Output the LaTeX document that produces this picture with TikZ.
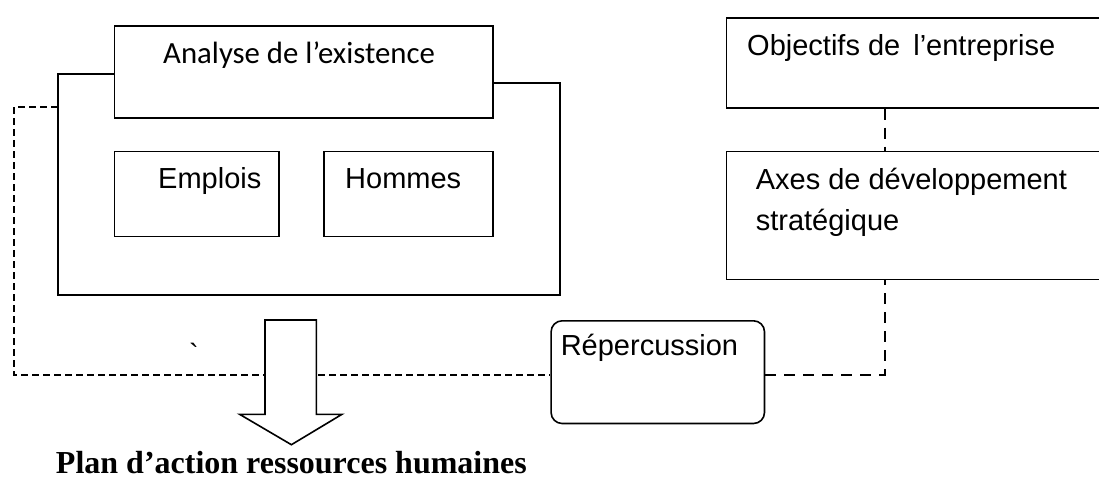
\documentclass[tikz,border=0pt]{standalone}
\usepackage{fontspec}
\setmainfont{Liberation Sans}
\newfontfamily\calibrifont{Carlito}
\newfontfamily\timesfont{Liberation Serif}
\tikzset{
  box/.style       = {shape=rectangle, draw, line width=1.6pt,
                      inner sep=0pt, anchor=north west},
  roundbox/.style  = {box, rounded corners=11pt},
  txt/.style       = {inner sep=0pt, anchor=base west,
                      font=\fontsize{29}{41}\selectfont},
  shortdash/.style = {draw, line width=2pt, dash pattern=on 7pt off 4pt},
  longdash/.style  = {draw, line width=2pt, dash pattern=on 11pt off 8pt}
}
\begin{document}
\begin{tikzpicture}
  [
    x = 1pt,
    y = -1pt
  ]
  \clip (0,0) rectangle (1099,479);
  % left block
  \node [box, minimum width=378.2pt, minimum height=92pt] (analyse) at (113.8,25) {};
  \node [box, minimum width=164.9pt, minimum height=85pt] (emplois) at (113.5,150.7) {};
  \node [box, minimum width=168.9pt, minimum height=85pt] (hommes) at (323.4,150.7) {};
  \draw [line width=1.6pt] ([yshift=-48.7pt]analyse.north west) -- (57.7,73.7)
    -- (57.7,294.7) -- (560,294.7) -- (560,83) -- ([yshift=-58pt]analyse.north east);
  % right block
  \node [box, minimum width=400pt, minimum height=89.7pt] (objectifs) at (725.7,17.3) {};
  \node [box, minimum width=400pt, minimum height=128pt] (axes) at (725.7,150.7) {};
  \node [roundbox, minimum width=213.4pt, minimum height=102.7pt] (reperc) at (550.3,320) {};
  % connectors
  \coordinate (tapL) at (57.7,107.3);
  \coordinate (tapR) at (884.5,0);
  \draw [shortdash] (tapL) -- (13.8,107.3) |- ([yshift=-2.6pt]reperc.west);
  \draw [longdash] ([yshift=-2.6pt]reperc.east) -| (axes.south -| tapR);
  \draw [longdash] (objectifs.south -| tapR) -- (axes.north -| tapR);
  \draw [line width=1.6pt, fill=white] (265,320) -- (316.3,320) -- (316.3,414.3)
    -- (342,414.3) -- (291.4,444.7) -- (239.6,414.3) -- (265,414.3) -- cycle;
  % texts
  \node [txt, font=\calibrifont\fontsize{30.8}{38}\selectfont] at (163,63.5) {Analyse de l’existence};
  \node [txt] at (158,188.3) {Emplois};
  \node [txt] at (345,188.3) {Hommes};
  \node [txt] at (747,55) {Objectifs de\hspace{13pt}l’entreprise};
  \node [txt] at (755.6,189) {Axes de développement};
  \node [txt] at (755.6,230) {stratégique};
  \node [txt] at (560.6,355) {Répercussion};
  \node [txt] at (189,364) {\textasciigrave};
  \node [inner sep=0pt, anchor=base, font=\timesfont\bfseries\fontsize{32}{38}\selectfont]
    at (291.4,473) {Plan d’action ressources humaines};
\end{tikzpicture}
\end{document}
